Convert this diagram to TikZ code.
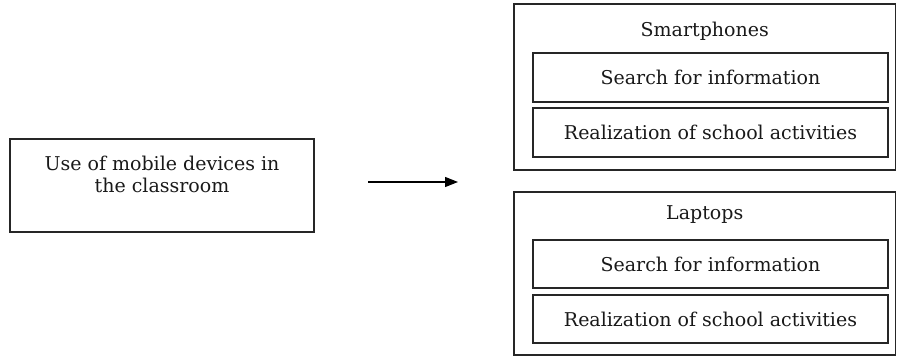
\documentclass[tikz,border=0pt]{standalone}
\usepackage{fontspec}
\setmainfont{DejaVu Serif}
\usetikzlibrary{arrows.meta}
\tikzset{
  box/.style={draw=black!85, line width=1.1pt, rectangle, inner sep=0pt},
  lbl/.style={inner sep=0pt, align=center, font=\fontsize{19}{22}\selectfont, text=black!90},
}
\begin{document}
\begin{tikzpicture}[x=1pt,y=-1pt]
\useasboundingbox (0,0) rectangle (897,358);
% left box
\node[box, minimum width=304pt, minimum height=93pt] (use) at (162,185.5) {};
\node[lbl] (usetext) at (162,174) {Use of mobile devices in\\the classroom};
% arrow
\coordinate (a1) at (368,182);
\coordinate (a2) at (458,182);
\draw[line width=1.1pt, -{Triangle[length=13pt,width=10pt]}] (a1) -- (a2);
% smartphones
\node[box, minimum width=381.5pt, minimum height=166pt] (sp) at (704.75,87) {};
\node[lbl] (sptitle) at (704.75,31) {Smartphones};
\node[box, minimum width=355pt, minimum height=49pt, lbl] (sp1) at (710.5,77.5) {Search for information};
\node[box, minimum width=355pt, minimum height=49pt, lbl] (sp2) at (710.5,132.5) {Realization of school activities};
% laptops
\node[box, minimum width=381.5pt, minimum height=163pt] (lt) at (704.75,273.5) {};
\node[lbl] (lttitle) at (704.75,215) {Laptops};
\node[box, minimum width=355pt, minimum height=48pt, lbl] (lt1) at (710.5,264) {Search for information};
\node[box, minimum width=355pt, minimum height=48pt, lbl] (lt2) at (710.5,319) {Realization of school activities};
\end{tikzpicture}
\end{document}
